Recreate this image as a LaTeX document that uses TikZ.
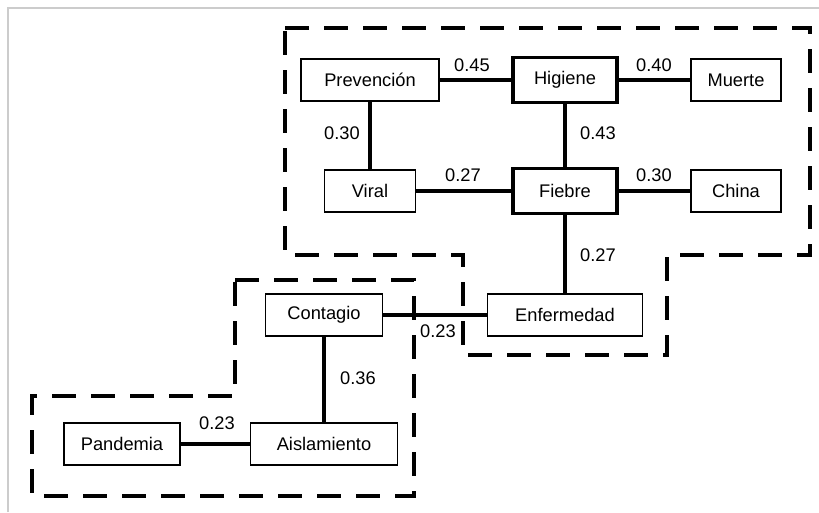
\documentclass[tikz,border=0pt]{standalone}
\usepackage{fontspec}
\setmainfont{Liberation Sans}
\begin{document}
\begin{tikzpicture}[x=0.02cm, y=-0.02cm, font=\fontsize{10.4}{12}\selectfont,
	box/.style={draw, line width=0.9pt, minimum height=0.84cm, inner sep=0pt},
	hub/.style={draw, line width=2.2pt, minimum height=0.9cm, minimum width=2.08cm, inner sep=0pt},
	conn/.style={line width=2.2pt},
	zone/.style={line width=2.2pt, dash pattern=on 13.6pt off 8.6pt},
	lbl/.style={inner sep=0pt}]
	\useasboundingbox (0,0) rectangle (819,512);
	\draw[black!20, line width=0.6pt] (8,512) -- (8,8) -- (819,8);
	% grupos
	\draw[zone] (285,28) -- (810,28) -- (810,255) -- (667,255) -- (667,355) -- (463,355) -- (463,255) -- (285,255) -- cycle;
	\draw[zone] (235,280) -- (414,280) -- (414,496) -- (32,496) -- (32,396) -- (235,396) -- cycle;
	% palabras
	\node[box, minimum width=2.76cm] (prev) at (370,80) {Prevención};
	\node[hub] (hig) at (565,80) {Higiene};
	\node[box, minimum width=1.8cm] (muer) at (736,80) {Muerte};
	\node[box, minimum width=1.82cm] (viral) at (370,191) {Viral};
	\node[hub] (fieb) at (565,191) {Fiebre};
	\node[box, minimum width=1.8cm] (china) at (736,191) {China};
	\node[box, minimum width=3.1cm] (enf) at (565,315) {Enfermedad};
	\node[box, minimum width=2.34cm] (cont) at (324,315) {Contagio};
	\node[box, minimum width=2.32cm] (pand) at (122,444) {Pandemia};
	\node[box, minimum width=2.94cm] (aisl) at (324,444) {Aislamiento};
	% enlaces
	\draw[conn] (prev) -- (hig) node[lbl] at (472,65) {0.45};
	\draw[conn] (hig) -- (muer) node[lbl] at (654,65) {0.40};
	\draw[conn] (prev) -- (viral) node[lbl] at (342,133) {0.30};
	\draw[conn] (hig) -- (fieb) node[lbl] at (598,133) {0.43};
	\draw[conn] (viral) -- (fieb) node[lbl] at (463,175) {0.27};
	\draw[conn] (fieb) -- (china) node[lbl] at (654,175) {0.30};
	\draw[conn] (fieb) -- (enf) node[lbl] at (598,255) {0.27};
	\draw[conn] (cont) -- (enf) node[lbl] at (438,331) {0.23};
	\draw[conn] (cont) -- (aisl) node[lbl] at (358,378) {0.36};
	\draw[conn] (pand) -- (aisl) node[lbl] at (217,423) {0.23};
\end{tikzpicture}
\end{document}
